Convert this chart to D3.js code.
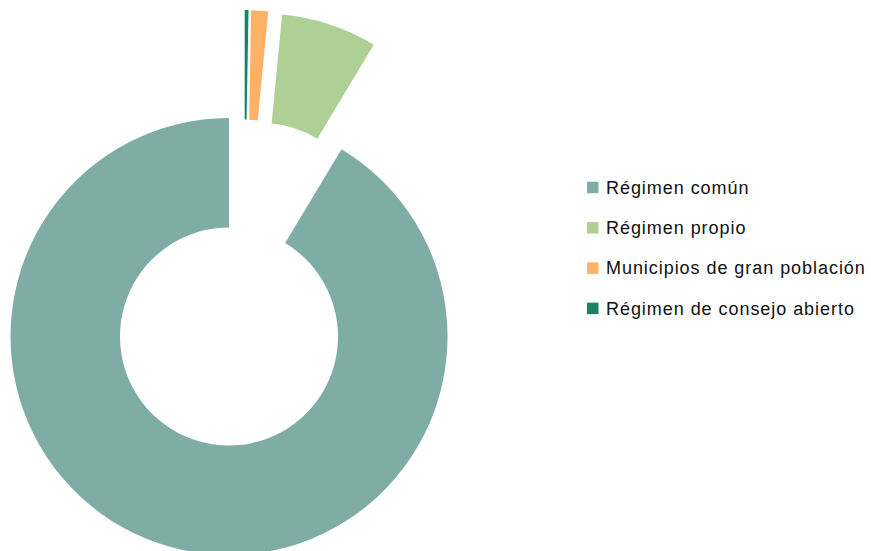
<!DOCTYPE html>
<html>
<head>
<meta charset="utf-8">
<script src="https://cdn.jsdelivr.net/npm/d3@7"></script>
<style>
  html, body { margin: 0; padding: 0; background: #fff; }
  svg { display: block; }
</style>
</head>
<body>
<svg id="chart" width="871" height="551"></svg>
<script>
// ---- data ----
const categories = ["Régimen común", "Régimen propio", "Municipios de gran población", "Régimen de consejo abierto"];
const values = [91.39, 7.08, 1.25, 0.28];
const colors = ["#7fada6", "#afd095", "#ffb266", "#188363"];
const exploded = [false, true, true, true];

// ---- layout ----
const W = 871, H = 551;
const cx = 229, cy = 336.5;
const outerR = 218.5, innerR = 109;
const explodeFrac = 0.5;          // offset as fraction of outer radius
const explodeBias = 8 * Math.PI / 180;

const svg = d3.select("#chart");
const g = svg.append("g").attr("transform", `translate(${cx},${cy})`);

const pie = d3.pie().sort(null).value(d => d).startAngle(0).endAngle(-2 * Math.PI);
const arcs = pie(values);
const arc = d3.arc().innerRadius(innerR).outerRadius(outerR);

g.selectAll("path")
  .data(arcs)
  .enter().append("path")
  .attr("d", arc)
  .attr("fill", (d, i) => colors[i])
  .attr("transform", (d, i) => {
    if (!exploded[i]) return null;
    let mid = (d.startAngle + d.endAngle) / 2;
    mid = ((mid % (2 * Math.PI)) + 2 * Math.PI) % (2 * Math.PI);
    const dir = explodeBias + mid / 2;
    const off = outerR * explodeFrac;
    return `translate(${off * Math.sin(dir)},${-off * Math.cos(dir)})`;
  });

// ---- legend ----
const legendX = 587, legendY0 = 187.5, legendStep = 40.3, sq = 11.5;
const leg = svg.append("g");
const items = leg.selectAll("g").data(categories).enter().append("g")
  .attr("transform", (d, i) => `translate(${legendX},${legendY0 + i * legendStep})`);
items.append("rect")
  .attr("x", 0).attr("y", -sq / 2).attr("width", sq).attr("height", sq)
  .attr("fill", (d, i) => colors[i]);
items.append("text")
  .attr("x", 19).attr("y", 0).attr("dy", "0.35em")
  .attr("font-family", "'Liberation Sans', Arial, sans-serif")
  .attr("font-size", 18)
  .attr("letter-spacing", 0.95)
  .attr("fill", "#111")
  .text(d => d);
</script>
</body>
</html>
